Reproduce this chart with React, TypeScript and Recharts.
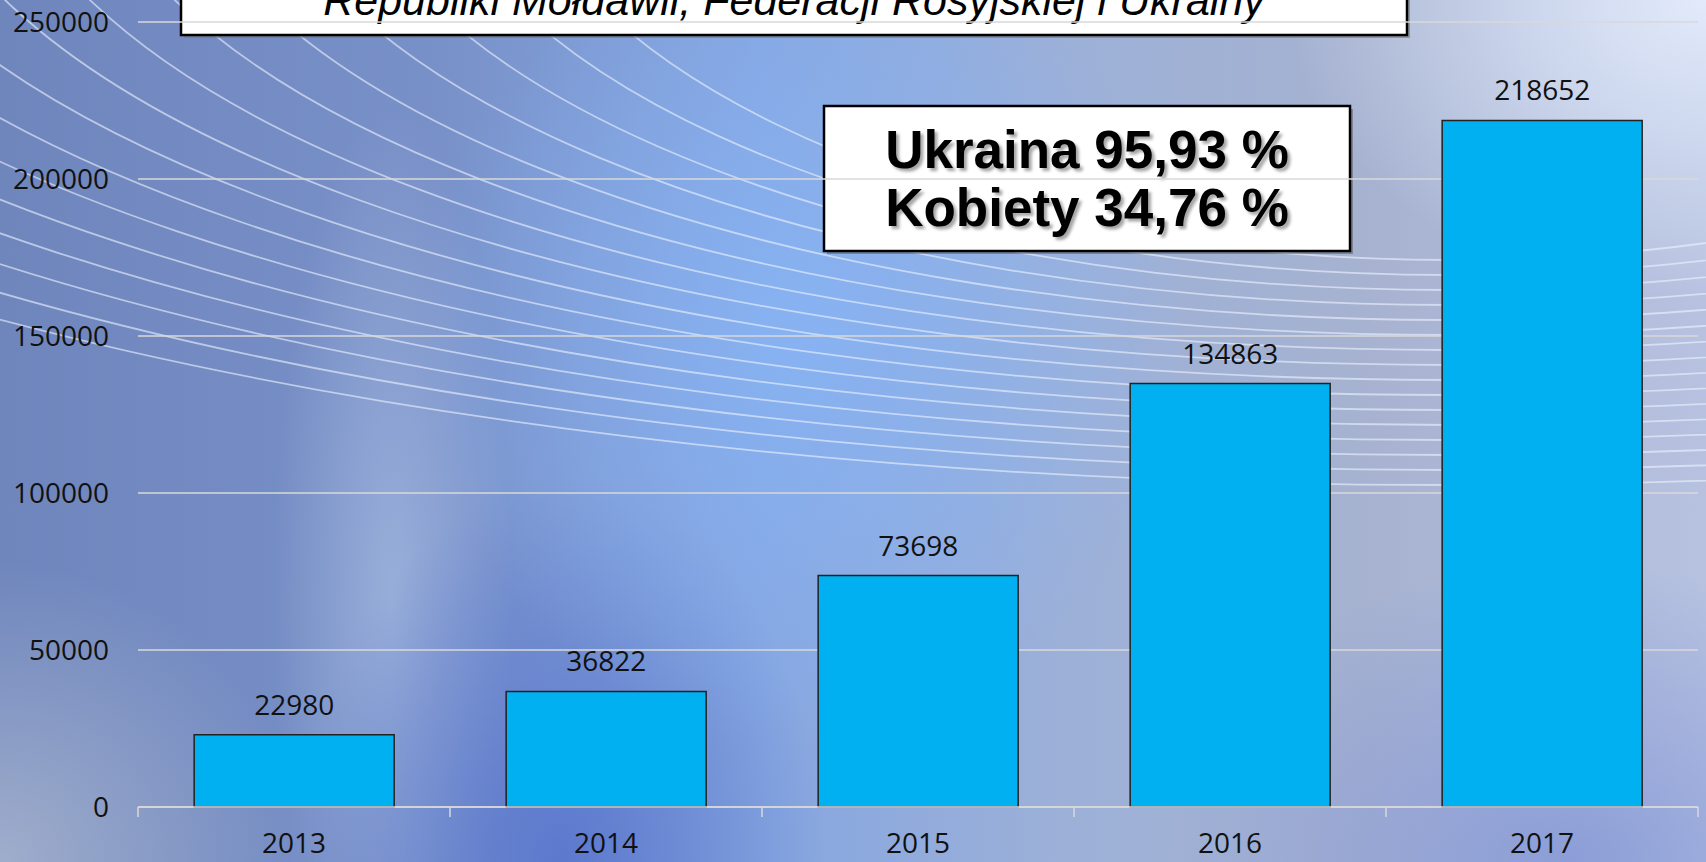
import React from "react";
import { BarChart, Bar, XAxis, YAxis, CartesianGrid, LabelList } from "recharts";

const years = ["2013", "2014", "2015", "2016", "2017"];
const declarations = [22980, 36822, 73698, 134863, 218652];
const yTicks = [0, 50000, 100000, 150000, 200000, 250000];
const titleText = "Republiki Mołdawii, Federacji Rosyjskiej i Ukrainy";
const noteLines = ["Ukraina 95,93 %", "Kobiety 34,76 %"];

const data = years.map((year, i) => ({ year, value: declarations[i] }));

const W = 1706;
const H = 862;
const PLOT_LEFT = 138;
const PLOT_RIGHT = 8;
const BAND = (W - PLOT_LEFT - PLOT_RIGHT) / years.length;
const FONT = "'Open Sans', sans-serif";
const AXIS_GREY = "#d9d9d9";

// x tick: year label centred, small tick marks on the category borders
function YearTick(props: any) {
  const { x, y, payload, index } = props;
  const left = x - BAND / 2;
  const right = x + BAND / 2;
  return (
    <g>
      <line x1={left} y1={y} x2={left} y2={y + 10} stroke={AXIS_GREY} strokeWidth={1.5} />
      {index === years.length - 1 && (
        <line x1={right} y1={y} x2={right} y2={y + 10} stroke={AXIS_GREY} strokeWidth={1.5} />
      )}
      <text x={x} y={y + 46} textAnchor="middle" fontSize={28} fontFamily={FONT} fill="#111">
        {payload.value}
      </text>
    </g>
  );
}

function Backdrop() {
  const arcs = [];
  for (let i = 0; i < 16; i++) {
    arcs.push(
      <ellipse
        key={i}
        cx={1450}
        cy={-200}
        rx={950 + i * 85}
        ry={460 + i * 15}
        fill="none"
        stroke="#eef3ff"
        strokeOpacity={0.6}
        strokeWidth={1.8}
      />
    );
  }
  return (
    <svg width={W} height={H} style={{ position: "absolute", left: 0, top: 0 }}>
      {arcs}
    </svg>
  );
}

function Boxes() {
  return (
    <svg width={W} height={H} style={{ position: "absolute", left: 0, top: 0 }}>
      <defs>
        <filter id="txtShadow" x="-10%" y="-20%" width="120%" height="150%">
          <feDropShadow dx="3" dy="3" stdDeviation="1.5" floodColor="#000" floodOpacity="0.35" />
        </filter>
      </defs>
      {/* title box, cut by the top edge */}
      <rect x={184} y={-40} width={1226} height={78} fill="#777" opacity={0.6} />
      <rect x={181} y={-40} width={1226} height={75} fill="#fff" stroke="#000" strokeWidth={2.5} />
      <text
        x={794}
        y={15}
        textAnchor="middle"
        fontSize={43}
        fontStyle="italic"
        fontFamily="'Liberation Sans', Arial, sans-serif"
        fill="#000"
      >
        {titleText}
      </text>
      {/* note box */}
      <rect x={827} y={109} width={526} height={145} fill="#555" opacity={0.5} />
      <rect x={824} y={106} width={526} height={145} fill="#fff" stroke="#000" strokeWidth={2.5} />
      {noteLines.map((line, i) => (
        <text
          key={line}
          x={1087}
          y={168 + i * 58}
          textAnchor="middle"
          fontSize={53}
          fontWeight="bold"
          fontFamily="'Liberation Sans', Arial, sans-serif"
          fill="#000"
          filter="url(#txtShadow)"
        >
          {line}
        </text>
      ))}
    </svg>
  );
}

export default function App() {
  return (
    <div
      style={{
        position: "absolute",
        left: 0,
        top: 0,
        width: W,
        height: H,
        overflow: "hidden",
        background: [
          "radial-gradient(ellipse 420px 300px at 100% 0%, rgba(228,236,252,0.95), rgba(228,236,252,0) 100%)",
          "radial-gradient(ellipse 380px 420px at 47% 38%, rgba(135,180,245,0.85), rgba(135,180,245,0) 100%)",
          "radial-gradient(ellipse 260px 380px at 33% 100%, rgba(80,110,205,0.75), rgba(80,110,205,0) 100%)",
          "radial-gradient(ellipse 120px 500px at 23% 70%, rgba(175,195,230,0.6), rgba(175,195,230,0) 100%)",
          "radial-gradient(ellipse 300px 300px at 0% 100%, rgba(165,178,205,0.9), rgba(165,178,205,0) 100%)",
          "radial-gradient(ellipse 400px 300px at 92% 100%, rgba(125,145,215,0.7), rgba(125,145,215,0) 100%)",
          "linear-gradient(90deg, #6f86bd 0%, #7890c8 25%, #86a6e0 45%, #9cb0d8 62%, #a6b2d0 80%, #b6c2e0 100%)",
        ].join(", "),
      }}
    >
      <Backdrop />
      <Boxes />
      <div style={{ position: "absolute", left: 0, top: 0 }}>
        <BarChart
          width={W}
          height={H}
          data={data}
          margin={{ top: 22, right: PLOT_RIGHT, left: 0, bottom: 0 }}
          barCategoryGap="18%"
        >
          <CartesianGrid vertical={false} stroke={AXIS_GREY} strokeWidth={1.5} />
          <XAxis
            dataKey="year"
            height={55}
            tickLine={false}
            tickSize={0}
            tickMargin={0}
            axisLine={{ stroke: AXIS_GREY, strokeWidth: 1.5 }}
            tick={<YearTick />}
            interval={0}
          />
          <YAxis
            width={PLOT_LEFT}
            domain={[0, 250000]}
            ticks={yTicks}
            axisLine={false}
            tickLine={false}
            tickSize={0}
            tickMargin={29}
            tick={{ fontSize: 28, fontFamily: FONT, fill: "#111" }}
          />
          <Bar dataKey="value" fill="#00b0f0" stroke="#222" strokeWidth={1.5} isAnimationActive={false}>
            <LabelList
              dataKey="value"
              position="top"
              offset={20}
              fontSize={28}
              fontFamily={FONT}
              fill="#111"
            />
          </Bar>
        </BarChart>
      </div>
    </div>
  );
}
